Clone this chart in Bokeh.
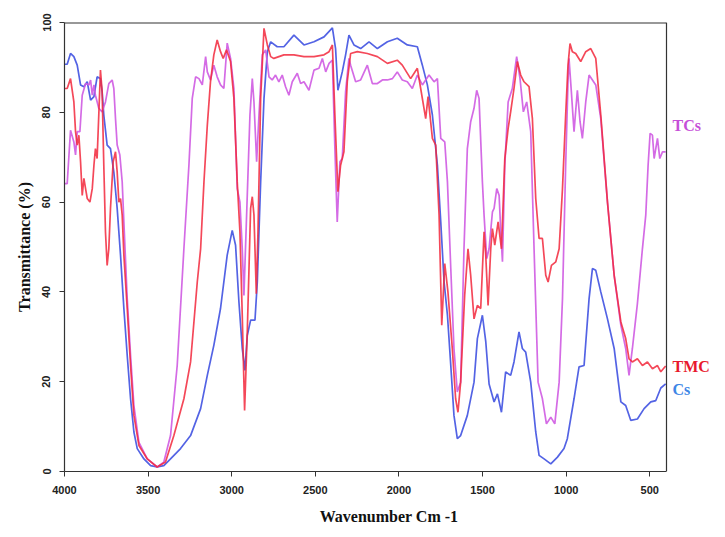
from bokeh.plotting import figure
from bokeh.models import Range1d, FixedTicker, Span
from bokeh.core.properties import value
from bokeh.embed import file_html
from bokeh.resources import INLINE

# ---- data ----
wn_cs = [4000, 3984, 3964, 3944, 3924, 3904, 3884, 3864, 3844, 3824, 3805, 3785, 3775, 3765, 3745, 3725, 3705, 3685,
         3665, 3645, 3625, 3605, 3585, 3565, 3525, 3485, 3446, 3406, 3366, 3306, 3246, 3186, 3146, 3107, 3067, 3027,
         2997, 2977, 2957, 2937, 2921, 2907, 2887, 2861, 2847, 2827, 2807, 2787, 2767, 2728, 2688, 2628, 2568, 2508,
         2448, 2398, 2379, 2365, 2339, 2319, 2299, 2269, 2229, 2179, 2129, 2069, 2010, 1950, 1890, 1860, 1830, 1800,
         1770, 1750, 1730, 1710, 1690, 1671, 1651, 1631, 1591, 1551, 1531, 1501, 1481, 1461, 1431, 1411, 1387, 1362,
         1332, 1312, 1282, 1262, 1242, 1212, 1182, 1162, 1132, 1092, 1052, 1013, 993, 953, 923, 893, 863, 843, 823,
         793, 753, 713, 673, 644, 614, 574, 534, 494, 464, 434, 405]
t_cs = [90.7, 90.7, 93.1, 92.4, 90.5, 86.1, 85.7, 86.8, 82.7, 83.5, 87.9, 87.5, 84.6, 79.4, 72.7, 71.9, 66.7, 58.6,
        48.2, 36.3, 25.9, 16.2, 8.8, 5.1, 2.8, 1.3, 1.0, 1.3, 2.8, 5.1, 8.0, 14.0, 21.4, 28.1, 36.3, 48.2,
        53.7, 50.4, 37.8, 27.4, 22.5, 30.3, 33.7, 33.7, 42.2, 64.5, 83.1, 93.5, 95.7, 94.6, 94.6, 97.2, 95.0, 95.7,
        96.8, 98.8, 94.2, 84.9, 89.0, 92.8, 97.2, 95.0, 94.2, 95.7, 94.2, 95.7, 96.5, 95.0, 94.6, 90.5, 86.1, 79.4,
        68.2, 55.6, 42.2, 34.8, 23.6, 12.5, 7.3, 8.0, 12.5, 19.9, 29.6, 34.8, 29.0, 19.5, 15.5, 17.3, 13.2, 22.2,
        21.4, 24.4, 31.1, 27.4, 26.6, 19.9, 8.8, 3.6, 2.8, 1.7, 3.2, 5.1, 7.3, 16.2, 23.3, 23.6, 38.5, 45.2, 44.8,
        40.0, 34.0, 27.4, 15.5, 14.7, 11.4, 11.7, 14.0, 15.5, 15.8, 18.6, 19.5]

wn_tmc = [4000, 3984, 3964, 3944, 3934, 3924, 3914, 3904, 3894, 3884, 3874, 3864, 3848, 3834, 3824, 3815, 3805, 3795,
          3785, 3775, 3765, 3755, 3745, 3735, 3725, 3709, 3695, 3685, 3675, 3665, 3655, 3645, 3625, 3605, 3585, 3555,
          3505, 3446, 3396, 3346, 3286, 3246, 3206, 3186, 3166, 3146, 3127, 3107, 3087, 3067, 3051, 3031, 3007, 2987,
          2967, 2951, 2937, 2923, 2907, 2887, 2877, 2867, 2853, 2843, 2827, 2807, 2787, 2767, 2748, 2688, 2628, 2568,
          2508, 2448, 2418, 2398, 2383, 2365, 2349, 2329, 2309, 2289, 2249, 2189, 2129, 2069, 2010, 1980, 1930, 1890,
          1870, 1840, 1826, 1800, 1780, 1760, 1744, 1726, 1707, 1681, 1661, 1647, 1631, 1607, 1587, 1571, 1551, 1531,
          1511, 1491, 1481, 1467, 1451, 1441, 1427, 1407, 1387, 1367, 1347, 1332, 1312, 1292, 1272, 1252, 1222, 1202,
          1182, 1162, 1142, 1122, 1108, 1088, 1062, 1042, 1022, 1003, 989, 977, 963, 943, 913, 883, 853, 823, 793,
          753, 713, 673, 644, 624, 604, 574, 544, 514, 484, 454, 434, 405]
t_tmc = [85.3, 85.3, 87.5, 82.3, 75.7, 72.7, 74.9, 69.0, 61.5, 65.3, 63.0, 60.8, 60.0, 63.0, 68.2, 71.9, 69.7, 79.4,
         89.4, 84.6, 68.2, 53.4, 45.9, 49.6, 58.6, 69.0, 71.2, 66.7, 60.0, 60.8, 57.1, 48.2, 36.3, 23.6, 12.5, 5.8,
         2.8, 1.0, 2.1, 8.0, 16.2, 24.4, 42.2, 49.6, 64.5, 77.1, 86.8, 92.8, 96.1, 93.5, 92.0, 93.9, 91.3, 83.1,
         64.5, 53.4, 34.8, 13.6, 31.1, 58.6, 61.2, 57.1, 39.6, 53.4, 83.1, 98.7, 95.0, 92.4, 92.0, 92.8, 92.8, 92.4,
         92.4, 92.8, 93.5, 95.0, 79.4, 62.3, 68.2, 71.2, 86.8, 93.1, 93.5, 93.1, 92.4, 90.9, 91.6, 90.5, 87.5, 89.8,
         85.3, 78.6, 83.5, 74.2, 72.7, 57.1, 32.6, 46.3, 40.0, 27.4, 16.2, 13.2, 19.9, 39.2, 49.6, 43.7, 34.0, 37.0,
         36.3, 53.4, 48.2, 37.0, 49.6, 54.1, 50.4, 55.6, 49.6, 69.7, 76.4, 80.1, 85.3, 91.3, 88.3, 86.8, 85.7, 78.6,
         60.8, 51.9, 51.9, 43.7, 42.2, 45.9, 46.7, 49.6, 63.0, 79.4, 90.5, 95.3, 93.5, 93.1, 91.3, 93.5, 94.2, 92.0, 79.4,
         60.0, 43.7, 33.3, 29.6, 25.1, 24.4, 25.1, 23.6, 24.4, 22.9, 23.6, 22.2, 23.5]

wn_tcs = [4000, 3984, 3964, 3944, 3934, 3924, 3908, 3894, 3874, 3854, 3844, 3834, 3824, 3815, 3795, 3775, 3755, 3735,
          3715, 3705, 3695, 3685, 3669, 3655, 3645, 3625, 3605, 3585, 3555, 3505, 3446, 3406, 3366, 3326, 3286, 3256,
          3236, 3216, 3196, 3176, 3156, 3146, 3127, 3107, 3087, 3067, 3047, 3027, 3007, 2987, 2967, 2951, 2937, 2927,
          2911, 2891, 2877, 2867, 2851, 2837, 2817, 2797, 2777, 2758, 2738, 2718, 2698, 2678, 2658, 2638, 2608, 2588,
          2568, 2538, 2508, 2478, 2458, 2438, 2418, 2398, 2383, 2369, 2353, 2339, 2319, 2299, 2289, 2259, 2229, 2189,
          2159, 2129, 2099, 2069, 2039, 2010, 1980, 1950, 1920, 1890, 1860, 1820, 1790, 1770, 1750, 1726, 1710, 1690,
          1671, 1651, 1631, 1611, 1591, 1571, 1551, 1535, 1521, 1501, 1491, 1475, 1461, 1441, 1431, 1415, 1401, 1391,
          1381, 1367, 1347, 1322, 1296, 1276, 1256, 1236, 1212, 1192, 1168, 1142, 1118, 1092, 1068, 1042, 1022, 1003,
          989, 983, 969, 953, 933, 917, 903, 883, 863, 843, 823, 793, 753, 713, 673, 644, 624, 604, 574, 544, 524,
          510, 498, 484, 474, 454, 440, 424, 405]
t_tcs = [64.1, 64.1, 76.0, 73.4, 70.5, 75.7, 75.7, 83.8, 86.4, 86.1, 87.2, 83.8, 86.1, 83.8, 80.9, 80.1, 82.3, 86.4,
         87.2, 85.3, 78.6, 72.7, 70.5, 64.5, 55.6, 38.5, 25.9, 14.7, 6.5, 2.8, 1.0, 2.1, 8.0, 23.6, 49.6, 68.2,
         83.1, 87.9, 87.5, 86.1, 92.4, 89.0, 87.2, 90.5, 87.9, 86.1, 85.3, 95.4, 92.0, 85.3, 63.0, 60.0, 49.6, 39.2,
         57.1, 79.4, 87.5, 82.3, 69.0, 79.4, 92.8, 93.9, 87.9, 87.2, 88.3, 86.8, 88.3, 85.7, 83.8, 86.8, 88.7, 86.4,
         86.8, 84.9, 89.4, 89.8, 92.0, 89.0, 90.9, 91.6, 71.9, 55.6, 69.0, 69.7, 84.6, 92.0, 90.5, 86.8, 87.2, 90.5,
         86.4, 86.4, 87.2, 87.2, 87.5, 89.0, 87.2, 86.8, 85.3, 88.3, 86.1, 88.3, 86.8, 87.5, 74.2, 73.4, 64.5, 45.2,
         27.4, 17.7, 19.9, 49.6, 71.9, 77.9, 80.9, 84.9, 83.1, 64.5, 57.1, 47.4, 49.6, 57.8, 58.6, 63.0, 61.5, 53.4,
         46.7, 68.2, 82.3, 85.3, 92.4, 87.5, 80.1, 82.3, 75.7, 49.6, 19.9, 16.2, 10.6, 12.1, 10.6, 19.9, 38.5, 68.2,
         86.8, 92.0, 84.6, 75.7, 84.9, 77.9, 74.2, 82.3, 88.3, 87.2, 86.1, 78.6, 60.0, 43.7, 32.6, 27.4, 21.4, 27.4, 37.4, 49.6, 57.1,
         68.2, 75.3, 74.9, 69.7, 74.2, 69.7, 71.2, 71.2]

series_names = ["TCs", "TMC", "Cs"]
label_y = [77.0, 23.3, 18.2]

x_ticks = [4000, 3500, 3000, 2500, 2000, 1500, 1000, 500]
y_ticks = [0, 20, 40, 60, 80, 100]

X_MAX, X_MIN = 4000, 400     # visible box of the spectrum
Y_MIN, Y_MAX = 0, 100

line_colors = {"Cs": "#4a5be3", "TMC": "#f2283c", "TCs": "#cf5be2"}
text_colors = {"Cs": "#3d86e6", "TMC": "#e8192c", "TCs": "#c64fd8"}
frame_color = "#333333"

# layout: box from px 64 to 666; the frame extends further right so that the
# curve labels can sit just outside the box
W, H = 717, 529
BL, BR, BT, BB = 64, 4, 22, 58
box_px = 602
frame_px = W - BL - BR
x_far = X_MAX - (X_MAX - X_MIN) * frame_px / box_px

p = figure(width=W, height=H, output_backend="svg", toolbar_location=None,
           x_range=Range1d(X_MAX, x_far), y_range=Range1d(Y_MIN, Y_MAX),
           min_border_left=BL, min_border_right=BR, min_border_top=BT, min_border_bottom=BB)

p.line(wn_cs, t_cs, line_color=line_colors["Cs"], line_width=1.7, line_alpha=0.95)
p.line(wn_tcs, t_tcs, line_color=line_colors["TCs"], line_width=1.7, line_alpha=0.9)
p.line(wn_tmc, t_tmc, line_color=line_colors["TMC"], line_width=1.7, line_alpha=0.85)

# top and right edges of the box
p.segment(x0=[X_MAX], x1=[X_MIN], y0=[Y_MAX], y1=[Y_MAX], line_color=frame_color, line_width=2)
p.add_layout(Span(location=X_MIN, dimension="height", line_color=frame_color, line_width=1.2))

p.grid.visible = False
p.outline_line_color = None
p.background_fill_color = "white"
p.border_fill_color = "white"

for ax in (p.xaxis[0], p.yaxis[0]):
    ax.axis_line_color = frame_color
    ax.axis_line_width = 1.2
    ax.major_tick_line_color = frame_color
    ax.major_tick_out = 5
    ax.major_tick_in = 0
    ax.minor_tick_line_color = None
    ax.major_label_text_font = "Liberation Sans"
    ax.major_label_text_font_style = "bold"
    ax.major_label_text_font_size = "11px"
    ax.major_label_text_color = "#222222"
    ax.axis_label_text_font = "Liberation Serif"
    ax.axis_label_text_font_style = "bold"
    ax.axis_label_text_font_size = "16px"
    ax.axis_label_text_color = "#111111"

p.xaxis.bounds = (X_MIN, X_MAX)
p.xaxis.ticker = FixedTicker(ticks=x_ticks)
p.yaxis.ticker = FixedTicker(ticks=y_ticks)
p.xaxis.axis_label = "Wavenumber Cm -1"
p.yaxis.axis_label = "Transmittance (%)"
p.yaxis.major_label_orientation = "vertical"
p.xaxis.major_label_standoff = 9
p.yaxis.major_label_standoff = 9
p.xaxis.axis_label_standoff = 11
p.yaxis.axis_label_standoff = 7

p.text(x=[X_MIN] * len(series_names), y=label_y, text=series_names,
       text_color=[text_colors[n] for n in series_names], x_offset=6,
       text_font=value("Liberation Serif"), text_font_style="bold", text_font_size="16px",
       text_baseline="middle", text_align="left")

open("out.html", "w").write(file_html(p, INLINE))
